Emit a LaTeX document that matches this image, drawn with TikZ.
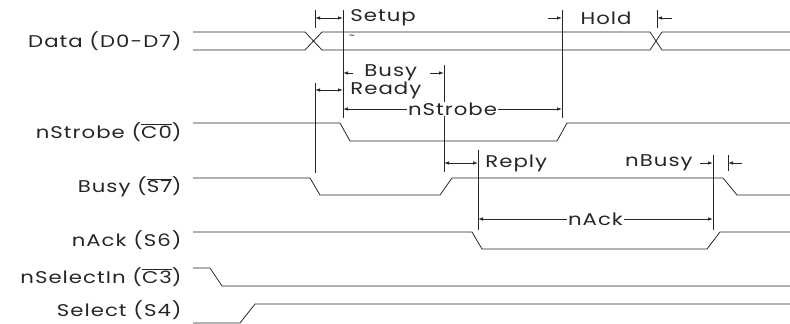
\documentclass[tikz,border=0pt]{standalone}
\usepackage{fontspec}
\setmainfont{Poppins}[LetterSpace=6, FakeStretch=1.25]
\usetikzlibrary{arrows.meta}
\tikzset{
  lbl/.style={anchor=east, inner sep=0pt, font=\fontsize{17}{19}\selectfont},
  tlbl/.style={inner sep=1pt, font=\fontsize{17}{19}\selectfont},
}
\begin{document}
\begin{tikzpicture}[>={Latex[length=5pt,width=3.5pt]}, x=1pt, y=-1pt, line width=0.8pt, color=black!85]
\useasboundingbox (0,0) rectangle (790,324);

\node[lbl] (data) at (182,41) {Data (D0-D7)};
\node[lbl] (strobe) at (182,132) {nStrobe ($\overline{\mbox{C0}}$)};
\node[lbl] (busy) at (182,187) {Busy ($\overline{\mbox{S7}}$)};
\node[lbl] (ack) at (182,240) {nAck (S6)};
\node[lbl] (selin) at (182,277) {nSelectIn ($\overline{\mbox{C3}}$)};
\node[lbl] (sel) at (182,310) {Select (S4)};

\draw (193,32)--(305,32)--(322,50)--(650,50)--(662,32)--(790,32);
\draw (193,50)--(305,50)--(322,32)--(650,32)--(662,50)--(790,50);
\draw (193,123)--(340,123)--(350,141)--(557,141)--(567,123)--(790,123);
\draw (193,178)--(310,178)--(320,195)--(440,195)--(452,178)--(723,178)--(737,195)--(790,195);
\draw (193,232)--(472,232)--(482,249)--(707,249)--(720,232)--(790,232);
\draw (193,268)--(210,268)--(222,286)--(790,286);
\draw (193,323)--(240,323)--(255,304)--(790,304);

\draw (315,10)--(315,28);
\draw (315,83)--(315,173);
\draw (343,10)--(343,118);
\draw (562,10)--(562,118);
\draw (657,10)--(657,28);
\draw (444,65)--(444,172);
\draw (478,150)--(478,230);
\draw (713,155)--(713,230);
\draw (728,155)--(728,171);

\coordinate (setupA) at (315,18); \coordinate (setupB) at (343,18);
\coordinate (holdA) at (562,18); \coordinate (holdB) at (657,18);
\coordinate (busyA) at (343,73); \coordinate (busyB) at (444,73);
\coordinate (readyA) at (315,90); \coordinate (readyB) at (343,90);
\coordinate (strbA) at (343,109); \coordinate (strbB) at (562,109);
\coordinate (replyA) at (444,163); \coordinate (replyB) at (478,163);
\coordinate (nbusyA) at (713,163); \coordinate (nbusyB) at (728,163);
\coordinate (ackA) at (478,219); \coordinate (ackB) at (713,219);

\draw[<->] (setupA)--(setupB) node[tlbl, right=6pt] {Setup};
\draw[<-] (holdA)--++(-14,0);
\draw[<-] (holdB)--++(15,0);
\node[tlbl] at (606,18) {Hold};
\draw[<-] (busyA)--++(10,0) node[tlbl, right=10pt] {Busy};
\draw[<-] (busyB)--++(-14,0);
\draw[<->] (readyA)--(readyB) node[tlbl, right=6pt] {Ready};
\draw[<->] (strbA)--(strbB) node[tlbl, midway, fill=white] {nStrobe};
\draw[<->] (replyA)--(replyB) node[tlbl, right=6pt] {Reply};
\draw[<-] (nbusyA)--++(-13,0) node[tlbl, left=6pt] {nBusy};
\draw[<-] (nbusyB)--++(14,0);
\draw[<->] (ackA)--(ackB) node[tlbl, midway, fill=white] {nAck};
\node[font=\small] (tld) at (352,37) {\textasciitilde};

\end{tikzpicture}
\end{document}
